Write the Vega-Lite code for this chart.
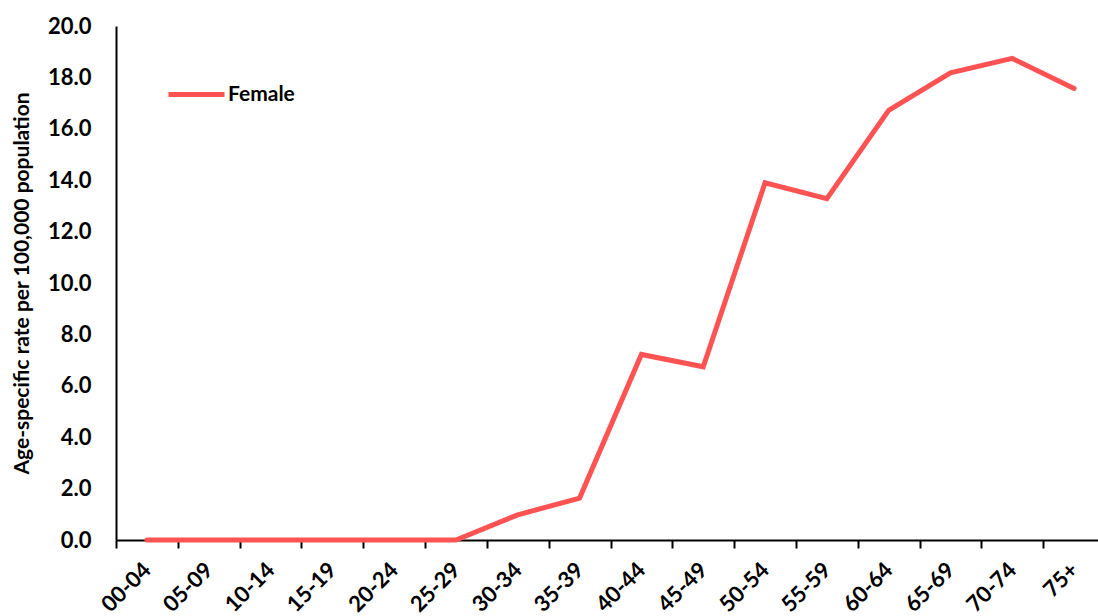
{
  "$schema": "https://vega.github.io/schema/vega-lite/v6.json",
  "autosize": "none",
  "width": 989,
  "height": 514,
  "padding": {"left": 116, "top": 26, "right": 0, "bottom": 76},
  "background": "white",
  "config": {"view": {"stroke": null}, "font": "Lato"},
  "data": {"values": [
    {"age": "00-04", "sex": "Female", "rate": 0},
    {"age": "05-09", "sex": "Female", "rate": 0},
    {"age": "10-14", "sex": "Female", "rate": 0},
    {"age": "15-19", "sex": "Female", "rate": 0},
    {"age": "20-24", "sex": "Female", "rate": 0},
    {"age": "25-29", "sex": "Female", "rate": 0},
    {"age": "30-34", "sex": "Female", "rate": 0.98},
    {"age": "35-39", "sex": "Female", "rate": 1.63},
    {"age": "40-44", "sex": "Female", "rate": 7.22},
    {"age": "45-49", "sex": "Female", "rate": 6.74},
    {"age": "50-54", "sex": "Female", "rate": 13.9},
    {"age": "55-59", "sex": "Female", "rate": 13.28},
    {"age": "60-64", "sex": "Female", "rate": 16.72},
    {"age": "65-69", "sex": "Female", "rate": 18.18},
    {"age": "70-74", "sex": "Female", "rate": 18.74},
    {"age": "75+", "sex": "Female", "rate": 17.57}
  ]},
  "mark": {"type": "line", "strokeWidth": 5, "strokeCap": "round", "strokeJoin": "miter"},
  "encoding": {
    "x": {
      "field": "age", "type": "ordinal", "sort": null,
      "scale": {"type": "band", "paddingInner": 0, "paddingOuter": 0},
      "axis": {
        "title": null, "labelAngle": -45, "labelAlign": "right", "labelBaseline": "middle",
        "labelFont": "Lato", "labelFontSize": 22, "labelFontWeight": "bold", "labelColor": "black",
        "labelPadding": 18,
        "tickBand": "extent", "tickSize": 8, "tickColor": "black", "tickWidth": 2,
        "domainColor": "black", "domainWidth": 2, "grid": false
      }
    },
    "y": {
      "field": "rate", "type": "quantitative",
      "scale": {"domain": [0, 20], "nice": false},
      "axis": {
        "title": "Age-specific rate per 100,000 population",
        "titleFont": "Lato", "titleFontSize": 21, "titleFontWeight": "bold", "titleColor": "black",
        "titlePadding": 15,
        "values": [0, 2, 4, 6, 8, 10, 12, 14, 16, 18, 20], "format": ".1f",
        "labelFont": "Lato", "labelFontSize": 22, "labelFontWeight": "bold", "labelColor": "black",
        "labelPadding": 25, "ticks": false, "grid": false,
        "domainColor": "black", "domainWidth": 2
      }
    },
    "color": {
      "field": "sex", "type": "nominal",
      "scale": {"range": ["#FF5252"]},
      "legend": {
        "title": null, "orient": "none", "legendX": 50, "legendY": 38,
        "symbolType": "stroke", "symbolSize": 3136, "symbolStrokeWidth": 5,
        "labelFont": "Lato", "labelFontSize": 21, "labelFontWeight": "bold", "labelColor": "black",
        "labelOffset": 1
      }
    }
  }
}
